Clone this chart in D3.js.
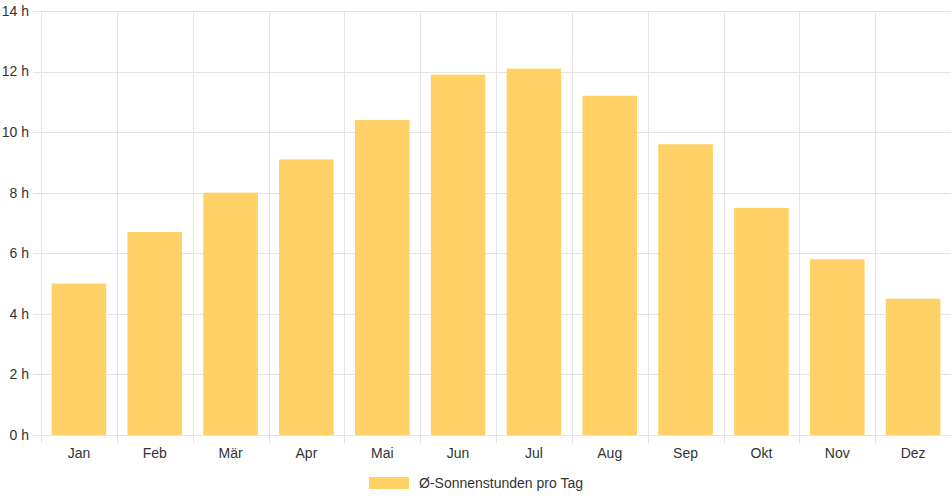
<!DOCTYPE html>
<html>
<head>
<meta charset="utf-8">
<script src="https://cdn.jsdelivr.net/npm/d3@7"></script>
<style>
  body { margin: 0; background: #fff; }
  svg { display: block; font-family: "Liberation Sans", Arial, Helvetica, sans-serif; }
</style>
</head>
<body>
<div id="chart"></div>
<script>
// Sonnenstunden pro Tag, Monatsmittel
const months = ["Jan", "Feb", "Mär", "Apr", "Mai", "Jun", "Jul", "Aug", "Sep", "Okt", "Nov", "Dez"];
const sunHours = [5.0, 6.7, 8.0, 9.1, 10.4, 11.9, 12.1, 11.2, 9.6, 7.5, 5.8, 4.5];
const yTicks = [0, 2, 4, 6, 8, 10, 12, 14];
const seriesLabel = "Ø-Sonnenstunden pro Tag";

const W = 952, H = 500;
const margin = {top: 11, right: 1, bottom: 65, left: 41};
const BAR_COLOR = "#ffd166";
const GRID = "#e4e4e4";
const TEXT = "#333";

const svg = d3.select("#chart").append("svg")
    .attr("width", W)
    .attr("height", H);

const x = d3.scaleBand()
    .domain(months)
    .range([margin.left, W - margin.right])
    .paddingInner(0.28)
    .paddingOuter(0.14);

const y = d3.scaleLinear()
    .domain([0, 14])
    .range([H - margin.bottom, margin.top]);

const step = x.step();
const x0 = x.range()[0];
const crisp = v => Math.round(v) + 0.5;

// horizontal grid + y ticks
const grid = svg.append("g");
grid.selectAll("line.h").data(yTicks).enter().append("line")
    .attr("class", "h")
    .attr("x1", margin.left - 8)
    .attr("x2", W - margin.right)
    .attr("y1", d => crisp(y(d)))
    .attr("y2", d => crisp(y(d)))
    .attr("stroke", GRID);

// vertical grid at category boundaries
const bounds = d3.range(months.length);
grid.selectAll("line.v").data(bounds).enter().append("line")
    .attr("class", "v")
    .attr("x1", d => crisp(x0 + d * step))
    .attr("x2", d => crisp(x0 + d * step))
    .attr("y1", margin.top)
    .attr("y2", H - margin.bottom + 8)
    .attr("stroke", GRID);

// bars
svg.append("g")
    .selectAll("rect").data(sunHours).enter().append("rect")
    .attr("x", (d, i) => x(months[i]))
    .attr("width", x.bandwidth())
    .attr("y", d => y(d))
    .attr("height", d => y(0) - y(d))
    .attr("fill", BAR_COLOR);

// y labels
svg.append("g")
    .selectAll("text").data(yTicks).enter().append("text")
    .attr("x", margin.left - 12)
    .attr("y", d => y(d))
    .attr("dy", "0.35em")
    .attr("text-anchor", "end")
    .attr("font-size", 14)
    .attr("fill", TEXT)
    .text(d => d + " h");

// x labels
svg.append("g")
    .selectAll("text").data(months).enter().append("text")
    .attr("x", d => x(d) + x.bandwidth() / 2)
    .attr("y", H - margin.bottom + 23)
    .attr("text-anchor", "middle")
    .attr("font-size", 14)
    .attr("fill", TEXT)
    .text(d => d);

// legend
const legend = svg.append("g");
const lt = legend.append("text")
    .attr("y", 488)
    .attr("font-size", 14)
    .attr("fill", TEXT)
    .text(seriesLabel);
const tw = lt.node().getComputedTextLength();
const lw = 40 + 10 + tw;
const lx = W / 2 - lw / 2;
legend.append("rect")
    .attr("x", lx)
    .attr("y", 477)
    .attr("width", 40)
    .attr("height", 12)
    .attr("fill", BAR_COLOR);
lt.attr("x", lx + 50);
</script>
</body>
</html>
